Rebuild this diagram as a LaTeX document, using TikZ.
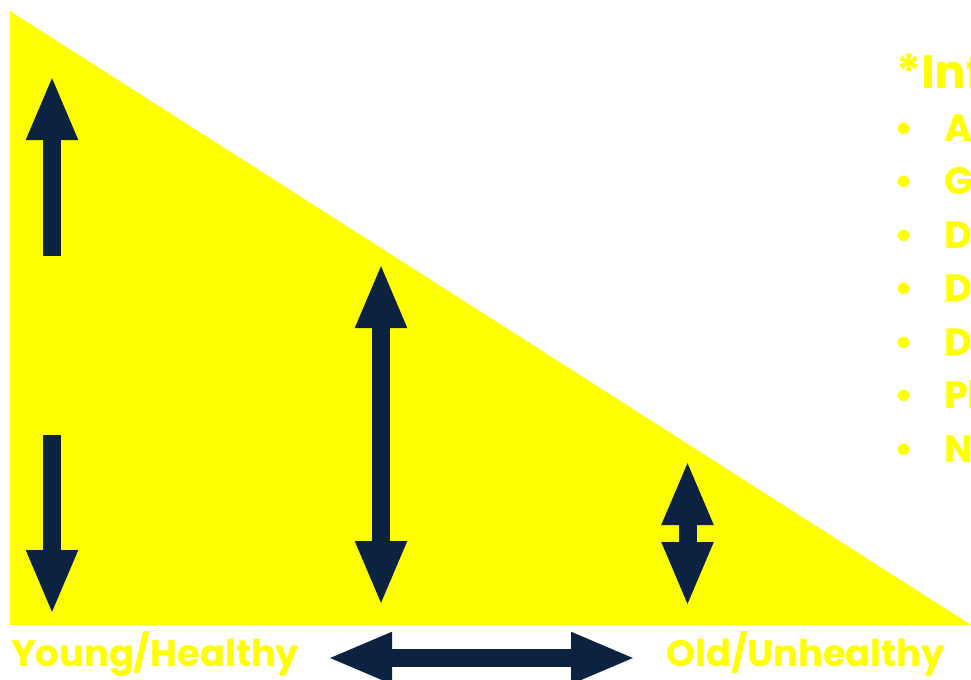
\documentclass[tikz,border=0pt]{standalone}
\usepackage{fontspec}
\setmainfont{Poppins}
\usetikzlibrary{arrows.meta, positioning}
\definecolor{Yel}  {HTML}{FFFF00}
\definecolor{Navy} {HTML}{0B2340}
\tikzset{
  uparr/.style={
    -{Triangle[length=48.75pt,width=35.25pt]},
    line width=13.5pt, color=Navy,
  },
  dblarr/.style={
    {Triangle[length=48.75pt,width=35.25pt]}-{Triangle[length=48.75pt,width=35.25pt]},
    line width=13.5pt, color=Navy,
  },
  lbl/.style={
    font=\fontsize{27.6pt}{30pt}\selectfont\bfseries, text=Yel,
    inner sep=0pt, anchor=base west,
  },
  ttl/.style={
    font=\fontsize{35pt}{40pt}\selectfont\bfseries, text=Yel,
    inner sep=0pt, anchor=base west,
  },
  itm/.style={
    font=\fontsize{28.5pt}{32pt}\selectfont\bfseries, text=Yel,
    inner sep=0pt, anchor=base west,
  },
}
\begin{document}
\begin{tikzpicture}[x=0.75pt,y=-0.75pt]
    \useasboundingbox (0,0) rectangle (971,679);

    % yellow wedge
    \fill[Yel] (10,11) -- (10,625) -- (971,625) -- cycle;

    % vertical arrows
    \coordinate (upA) at (52,256);
    \coordinate (upB) at (52,75);
    \draw[uparr] (upA) -- (upB);
    \coordinate (dnA) at (52,435);
    \coordinate (dnB) at (52,615);
    \draw[uparr] (dnA) -- (dnB);
    \coordinate (midA) at (381,263);
    \coordinate (midB) at (381,606);
    \draw[dblarr] (midA) -- (midB);
    \coordinate (rgtA) at (687.5,460);
    \coordinate (rgtB) at (687.5,607);
    \draw[dblarr] (rgtA) -- (rgtB);

    % bottom labels
    \node[lbl] (young) at (11,666) {Young/Healthy};
    \node[lbl] (old)   at (666,666) {Old/Unhealthy};
    \coordinate (hzA) at (327,658);
    \coordinate (hzB) at (636,658);
    \draw[dblarr] (hzA) -- (hzB);

    % list on the right
    \node[ttl] (inf) at (896,88) {*Inf};
    \foreach \t [count=\i] in {A,G,D,D,D,Pl,N}{
      \node[itm] (it\i) at (944,{141+(\i-1)*53.5}) {\t};
      \node[itm, anchor=base] (bl\i) at (904,{141+(\i-1)*53.5}) {•};
    }

\end{tikzpicture}
\end{document}
